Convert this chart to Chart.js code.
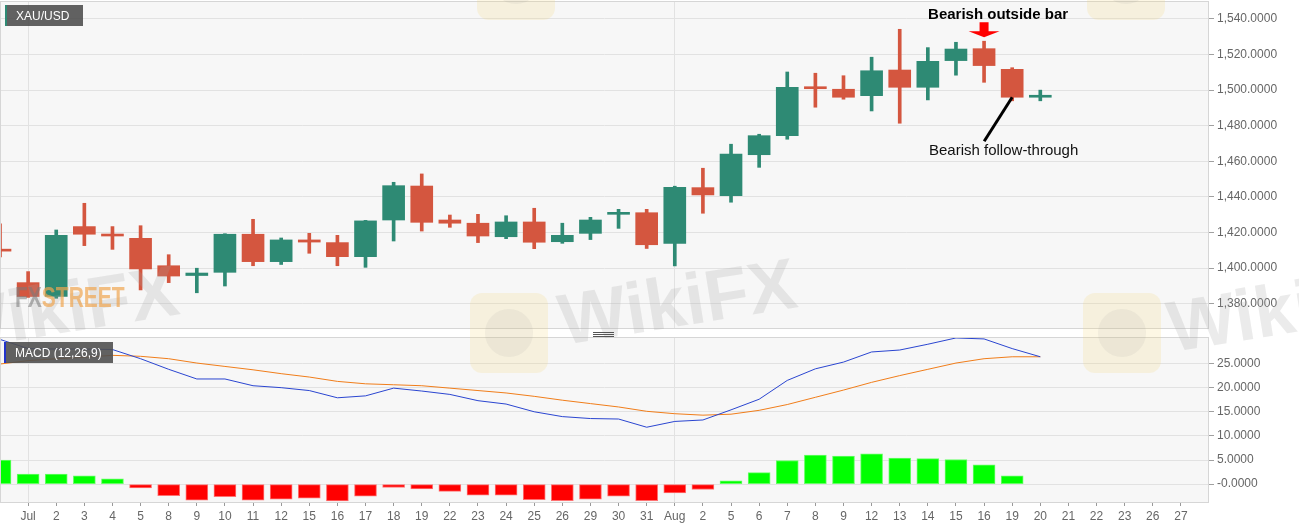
<!DOCTYPE html>
<html>
<head>
<meta charset="utf-8">
<title>XAU/USD daily</title>
<script src="https://cdn.jsdelivr.net/npm/chart.js@4.4.1/dist/chart.umd.min.js"></script>
<style>
  html, body { margin: 0; padding: 0; background: #fff; }
  #wrap { position: relative; width: 1299px; height: 528px; overflow: hidden; }
  #priceChart { position: absolute; left: 0; top: 0; }
  #macdChart { position: absolute; left: 0; top: 330px; }
</style>
</head>
<body>
<div id="wrap">
  <canvas id="priceChart" width="1299" height="330"></canvas>
  <canvas id="macdChart" width="1299" height="198"></canvas>
</div>
<script>
// trading days, Jun 28 -> Aug 28 (first and last slots have no label)
const dates = ['', 'Jul', '2', '3', '4', '5', '8', '9', '10', '11', '12', '15', '16', '17', '18', '19',
  '22', '23', '24', '25', '26', '29', '30', '31', 'Aug', '2', '5', '6', '7', '8', '9',
  '12', '13', '14', '15', '16', '19', '20', '21', '22', '23', '26', '27', ''];

// daily OHLC
const opens  = [1410.5, 1391.8, 1384.0, 1423.3, 1419.0, 1416.7, 1401.3, 1395.8, 1397.6, 1419.0, 1403.6, 1415.8, 1414.3,
  1406.4, 1427.0, 1446.1, 1427.0, 1425.2, 1417.6, 1425.9, 1414.8, 1419.5, 1430.2, 1431.1, 1413.9, 1445.2,
  1440.7, 1463.7, 1474.4, 1501.5, 1500.5, 1496.9, 1511.3, 1501.6, 1516.6, 1523.3, 1511.7, 1496.0];
const highs  = [1424.8, 1398.0, 1421.4, 1436.4, 1423.3, 1423.8, 1407.5, 1399.9, 1419.3, 1427.4, 1416.9, 1419.5, 1418.4,
  1426.8, 1448.2, 1452.9, 1429.8, 1430.2, 1429.4, 1433.6, 1425.2, 1428.5, 1433.0, 1433.0, 1446.0, 1456.1,
  1469.6, 1475.2, 1510.2, 1509.5, 1508.1, 1518.5, 1534.2, 1523.9, 1526.9, 1527.5, 1512.6, 1500.0];
const lows   = [1406.2, 1383.5, 1383.0, 1412.6, 1410.5, 1387.7, 1391.8, 1386.1, 1389.9, 1401.3, 1402.0, 1408.3, 1401.3,
  1400.4, 1415.2, 1420.8, 1422.9, 1414.3, 1416.5, 1410.9, 1413.9, 1416.0, 1422.3, 1411.0, 1401.2, 1430.8,
  1437.0, 1456.6, 1472.4, 1490.4, 1494.9, 1488.3, 1481.4, 1494.5, 1508.4, 1504.4, 1494.0, 1494.0];
const closes = [1409.5, 1384.0, 1418.4, 1419.0, 1418.0, 1399.5, 1395.5, 1397.2, 1419.0, 1403.6, 1415.8, 1414.6, 1406.4,
  1426.5, 1446.3, 1425.7, 1425.2, 1418.0, 1425.9, 1414.5, 1418.4, 1427.0, 1431.2, 1413.1, 1445.4, 1441.1,
  1464.1, 1474.4, 1501.6, 1500.8, 1496.0, 1510.9, 1501.6, 1516.2, 1523.1, 1513.8, 1496.0, 1496.6];

// MACD (12,26,9)
const macdLine   = [30.0, 28.1, 28.0, 28.0, 27.9, 26.0, 23.8, 21.8, 21.8, 20.4, 20.0, 19.4, 17.9, 18.3, 19.9, 19.3,
  18.6, 17.3, 16.6, 15.0, 14.0, 13.6, 13.5, 11.8, 13.0, 13.3, 15.4, 17.6, 21.5, 23.9, 25.3, 27.4, 27.8,
  29.0, 30.3, 30.1, 28.1, 26.4];
const signalLine = [24.9, 25.6, 26.0, 26.3, 26.7, 26.5, 26.0, 25.1, 24.4, 23.7, 22.9, 22.2, 21.3, 20.8, 20.6, 20.4,
  19.9, 19.4, 18.9, 18.2, 17.4, 16.7, 16.0, 15.1, 14.6, 14.3, 14.5, 15.3, 16.5, 18.0, 19.5, 21.1, 22.5,
  23.8, 25.1, 26.0, 26.4, 26.4];
const histogram  = [5.0, 2.1, 2.1, 1.7, 1.1, -0.8, -2.4, -3.3, -2.6, -3.3, -3.1, -2.9, -3.5, -2.5, -0.7, -1.0,
  -1.5, -2.3, -2.3, -3.2, -3.4, -3.1, -2.5, -3.4, -1.8, -1.1, 0.7, 2.4, 4.9, 6.0, 5.8, 6.3, 5.4,
  5.3, 5.1, 4.0, 1.7, 0.0];

// axis ticks
const priceTicks = [1380, 1400, 1420, 1440, 1460, 1480, 1500, 1520, 1540];
const macdTicks = [0, 5, 10, 15, 20, 25];

const outsideBarIdx = 35; // Aug 16
const followIdx = 36;     // Aug 19

const UP = '#2e8a74', DOWN = '#d4563f';
const AXIS_W = 90;
const FONT = '"Liberation Sans", Arial, sans-serif';
Chart.defaults.font.family = FONT;

const candleColors = opens.map((o, i) => closes[i] >= o ? UP : DOWN);

// plot background + frame
const panelBg = {
  id: 'panelBg',
  beforeDraw(chart) {
    const { ctx, chartArea: a } = chart;
    ctx.save();
    ctx.fillStyle = '#f7f7f7';
    ctx.fillRect(a.left, a.top, a.right - a.left, a.bottom - a.top);
    ctx.restore();
  },
  afterDraw(chart) {
    const { ctx, chartArea: a } = chart;
    ctx.save();
    ctx.strokeStyle = '#d6d6d6';
    ctx.lineWidth = 1;
    ctx.strokeRect(a.left + 0.5, a.top + 0.5, a.right - a.left - 1, a.bottom - a.top);
    ctx.restore();
  }
};

// faint watermarks, drawn in page coordinates
function drawWatermarks(ctx, offY) {
  ctx.save();
  ctx.translate(0, -offY);
  [[470, 293], [1083, 293], [477, -60], [1087, -60]].forEach(([x, y]) => {
    ctx.fillStyle = 'rgba(246, 214, 120, 0.2)';
    ctx.beginPath();
    ctx.roundRect(x, y, 78, 80, 12);
    ctx.fill();
    ctx.fillStyle = 'rgba(150, 150, 150, 0.1)';
    ctx.beginPath();
    ctx.arc(x + 39, y + 40, 24, 0, Math.PI * 2);
    ctx.fill();
  });
  [[-55, 352], [563, 345], [1172, 352]].forEach(([x, y]) => {
    ctx.save();
    ctx.translate(x, y);
    ctx.rotate(-0.16);
    ctx.font = 'bold 72px ' + FONT;
    ctx.fillStyle = 'rgba(165, 165, 165, 0.22)';
    ctx.fillText('WikiFX', 0, 0);
    ctx.restore();
  });
  ctx.restore();
}

function labelBox(ctx, x, y, w, h, edge, text) {
  ctx.save();
  ctx.fillStyle = 'rgba(80, 80, 80, 0.9)';
  ctx.fillRect(x, y, w, h);
  ctx.fillStyle = edge;
  ctx.fillRect(x, y, 2, h);
  ctx.fillStyle = '#fff';
  ctx.font = '12px ' + FONT;
  ctx.textBaseline = 'middle';
  ctx.fillText(text, x + 11, y + h / 2 + 1);
  ctx.restore();
}

const priceOverlay = {
  id: 'priceOverlay',
  afterDraw(chart) {
    const { ctx } = chart;
    const xs = chart.scales.x, ys = chart.scales.y;
    drawWatermarks(ctx, 0);

    // FXStreet logo
    ctx.save();
    ctx.translate(15, 307);
    ctx.scale(0.7, 1);
    ctx.font = 'bold 30px ' + FONT;
    ctx.fillStyle = 'rgba(120, 120, 120, 0.55)';
    ctx.fillText('FX', 0, 0);
    const fxw = ctx.measureText('FX').width;
    ctx.fillStyle = 'rgba(240, 165, 80, 0.7)';
    ctx.fillText('STREET', fxw, 0);
    ctx.restore();

    labelBox(ctx, 5, 5, 78, 21, '#2e8a74', 'XAU/USD');

    // "Bearish outside bar" + arrow
    const ax = xs.getPixelForValue(outsideBarIdx);
    const tip = ys.getPixelForValue(highs[outsideBarIdx]) - 4;
    ctx.save();
    ctx.fillStyle = '#000';
    ctx.font = 'bold 15px ' + FONT;
    ctx.textAlign = 'center';
    ctx.fillText('Bearish outside bar', ax + 14, 19);
    ctx.fillStyle = '#f00';
    ctx.beginPath();
    ctx.moveTo(ax - 4.5, tip - 15);
    ctx.lineTo(ax + 4.5, tip - 15);
    ctx.lineTo(ax + 4.5, tip - 6);
    ctx.lineTo(ax + 15.5, tip - 6);
    ctx.lineTo(ax, tip);
    ctx.lineTo(ax - 15.5, tip - 6);
    ctx.lineTo(ax - 4.5, tip - 6);
    ctx.closePath();
    ctx.fill();

    // "Bearish follow-through" pointer
    const fx = xs.getPixelForValue(followIdx);
    const fy = ys.getPixelForValue(closes[followIdx]);
    ctx.strokeStyle = '#000';
    ctx.lineWidth = 3;
    ctx.beginPath();
    ctx.moveTo(fx - 28, fy + 44);
    ctx.lineTo(fx, fy);
    ctx.stroke();
    ctx.fillStyle = '#111';
    ctx.font = '15px ' + FONT;
    ctx.textAlign = 'left';
    ctx.fillText('Bearish follow-through', 929, 155);
    ctx.restore();
  }
};

const macdOverlay = {
  id: 'macdOverlay',
  afterDraw(chart) {
    const { ctx } = chart;
    drawWatermarks(ctx, 330);
    labelBox(ctx, 4, 12, 109, 21, '#2233cc', 'MACD (12,26,9)');
    // pane resize grip
    ctx.save();
    ctx.strokeStyle = '#555';
    ctx.lineWidth = 1;
    [2.5, 4.5, 6.5].forEach(y => {
      ctx.beginPath();
      ctx.moveTo(593, y);
      ctx.lineTo(614, y);
      ctx.stroke();
    });
    ctx.restore();
  }
};

function fixedAxis(scale) {
  scale.width = AXIS_W;
  scale.paddingTop = 0;
  scale.paddingBottom = 0;
}

const monthGrid = c => (c.tick && (c.tick.label === 'Jul' || c.tick.label === 'Aug')) ? '#e2e2e2' : 'rgba(0,0,0,0)';

// price pane
new Chart(document.getElementById('priceChart'), {
  type: 'bar',
  data: {
    labels: dates,
    datasets: [{
      label: 'Body',
      data: opens.map((o, i) => [o, closes[i]]),
      backgroundColor: candleColors,
      barThickness: 22,
      minBarLength: 2,
      grouped: false,
      borderWidth: 0,
      order: 1
    }, {
      label: 'Wick',
      data: lows.map((l, i) => [l, highs[i]]),
      backgroundColor: candleColors,
      barThickness: 3,
      grouped: false,
      borderWidth: 0,
      order: 2
    }]
  },
  options: {
    responsive: false,
    animation: false,
    layout: { padding: { top: 1, bottom: 2, left: 0, right: 0 } },
    plugins: { legend: { display: false }, tooltip: { enabled: false } },
    scales: {
      x: {
        type: 'category',
        offset: false,
        grid: { color: monthGrid, drawTicks: false, offset: false },
        ticks: { display: false, autoSkip: false },
        border: { display: false },
        afterFit: s => { s.paddingLeft = 0; s.paddingRight = 0; }
      },
      y: {
        position: 'right',
        min: 1366.3,
        max: 1550.1,
        afterBuildTicks: s => { s.ticks = priceTicks.map(v => ({ value: v })); },
        afterFit: fixedAxis,
        grid: { color: '#e2e2e2', tickLength: 5, tickColor: '#a0a0a0' },
        border: { display: false },
        ticks: {
          color: '#666',
          font: { size: 12 },
          padding: 3,
          callback: v => v.toLocaleString('en-US', { minimumFractionDigits: 4, maximumFractionDigits: 4 })
        }
      }
    }
  },
  plugins: [panelBg, priceOverlay]
});

// MACD pane
new Chart(document.getElementById('macdChart'), {
  type: 'bar',
  data: {
    labels: dates,
    datasets: [{
      type: 'line',
      label: 'MACD',
      data: macdLine,
      borderColor: '#2a45d0',
      borderWidth: 1,
      pointRadius: 0,
      tension: 0,
      order: 1
    }, {
      type: 'line',
      label: 'Signal',
      data: signalLine,
      borderColor: '#f07d1a',
      borderWidth: 1,
      pointRadius: 0,
      tension: 0,
      order: 2
    }, {
      label: 'Histogram',
      data: histogram,
      backgroundColor: histogram.map(v => v >= 0 ? '#00ff00' : '#ff0000'),
      borderColor: histogram.map(v => v >= 0 ? '#66ff66' : '#ff7070'),
      borderWidth: 1,
      borderSkipped: false,
      barThickness: 22,
      order: 3
    }]
  },
  options: {
    responsive: false,
    animation: false,
    layout: { padding: { top: 7, bottom: 0, left: 0, right: 0 } },
    plugins: { legend: { display: false }, tooltip: { enabled: false } },
    scales: {
      x: {
        type: 'category',
        offset: false,
        grid: {
          color: monthGrid,
          offset: false,
          tickLength: 4,
          tickColor: c => (c.tick && c.tick.label !== '') ? '#999' : 'rgba(0,0,0,0)'
        },
        border: { display: false },
        ticks: { color: '#666', font: { size: 12 }, padding: 3, autoSkip: false, maxRotation: 0 },
        afterFit: s => { s.height = 26; s.paddingLeft = 0; s.paddingRight = 0; }
      },
      y: {
        position: 'right',
        min: -3.7,
        max: 30.5,
        afterBuildTicks: s => { s.ticks = macdTicks.map(v => ({ value: v })); },
        afterFit: fixedAxis,
        grid: { color: '#e2e2e2', tickLength: 5, tickColor: '#a0a0a0' },
        border: { display: false },
        ticks: {
          color: '#666',
          font: { size: 12 },
          padding: 3,
          callback: v => v === 0 ? '-0.0000' : v.toFixed(4)
        }
      }
    }
  },
  plugins: [panelBg, macdOverlay]
});
</script>
</body>
</html>
